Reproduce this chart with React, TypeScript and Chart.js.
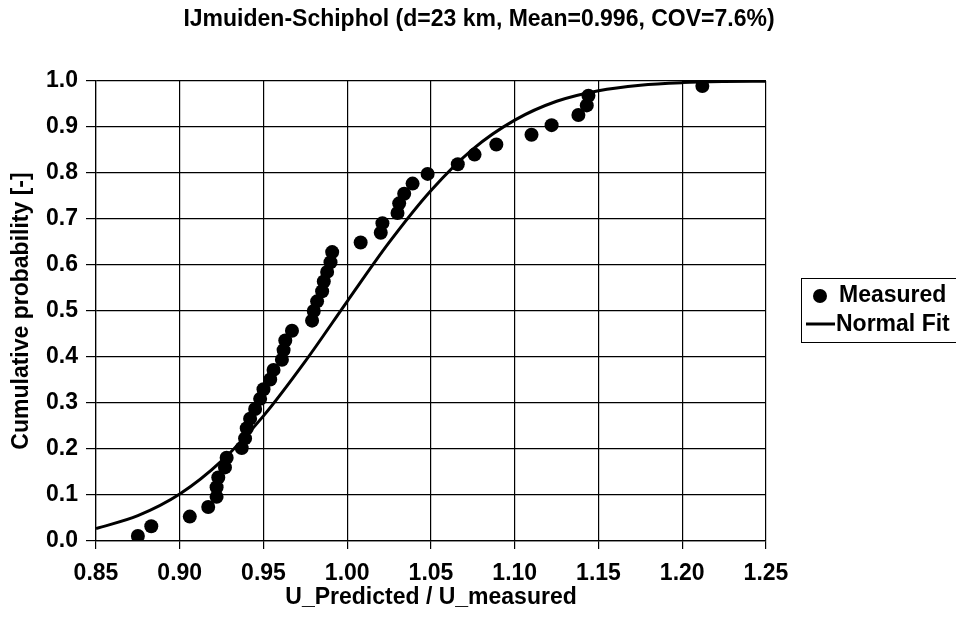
import React, { useEffect, useRef } from 'react';
import { Chart, registerables } from 'chart.js';
Chart.register(...registerables);

const chartTitle = 'IJmuiden-Schiphol (d=23 km, Mean=0.996, COV=7.6%)';
const xAxisTitle = 'U_Predicted / U_measured';
const yAxisTitle = 'Cumulative probability [-]';
const legendLabels = ['Measured', 'Normal Fit'];

const xTicks = [0.85, 0.9, 0.95, 1.0, 1.05, 1.1, 1.15, 1.2, 1.25];
const yTicks = [0, 0.1, 0.2, 0.3, 0.4, 0.5, 0.6, 0.7, 0.8, 0.9, 1.0];

const measuredX = [
  0.875, 0.883, 0.906, 0.917, 0.922, 0.922, 0.923, 0.927, 0.928, 0.937,
  0.939, 0.940, 0.942, 0.945, 0.948, 0.950, 0.954, 0.956, 0.961, 0.962,
  0.963, 0.967, 0.979, 0.980, 0.982, 0.985, 0.986, 0.988, 0.990, 0.991,
  1.008, 1.020, 1.021, 1.030, 1.031, 1.034, 1.039, 1.048, 1.066, 1.076,
  1.089, 1.110, 1.122, 1.138, 1.143, 1.144, 1.212,
];
const measuredP = [
  0.011, 0.032, 0.053, 0.074, 0.096, 0.117, 0.138, 0.160, 0.181, 0.202,
  0.223, 0.245, 0.266, 0.287, 0.309, 0.330, 0.351, 0.372, 0.394, 0.415,
  0.436, 0.457, 0.479, 0.500, 0.521, 0.543, 0.564, 0.585, 0.606, 0.628,
  0.649, 0.670, 0.691, 0.713, 0.734, 0.755, 0.777, 0.798, 0.819, 0.840,
  0.862, 0.883, 0.904, 0.926, 0.947, 0.968, 0.989,
];

const fitX = [0.85, 0.875, 0.9, 0.925, 0.95, 0.975, 1.0, 1.025, 1.05, 1.075, 1.1, 1.125, 1.15, 1.175, 1.2, 1.225, 1.25];
const fitP = [0.027, 0.055, 0.102, 0.174, 0.272, 0.391, 0.521, 0.649, 0.762, 0.852, 0.915, 0.956, 0.979, 0.991, 0.9965, 0.9988, 0.9996];

const FONT = '"Liberation Sans", Arial, Helvetica, sans-serif';
const FS = 23;

const textPlugin = {
  id: 'customText',
  afterDraw(chart: any) {
    const ctx = chart.ctx;
    const area = chart.chartArea;
    ctx.save();
    ctx.fillStyle = '#000';
    ctx.font = `bold ${FS}px ${FONT}`;
    ctx.textAlign = 'center';
    ctx.textBaseline = 'middle';
    ctx.fillText(chartTitle, 479, 20);
    ctx.fillText(xAxisTitle, (area.left + area.right) / 2, 598);
    ctx.save();
    ctx.translate(22, (area.top + area.bottom) / 2);
    ctx.rotate(-Math.PI / 2);
    ctx.fillText(yAxisTitle, 0, 0);
    ctx.restore();
    // legend
    const lx = 801, ly = 278, lw = 170, lh = 64;
    ctx.fillStyle = '#fff';
    ctx.fillRect(lx, ly, lw, lh);
    ctx.strokeStyle = '#000';
    ctx.lineWidth = 1;
    ctx.strokeRect(lx + 0.5, ly + 0.5, lw, lh);
    ctx.fillStyle = '#000';
    ctx.beginPath();
    ctx.arc(820, 296, 7, 0, Math.PI * 2);
    ctx.fill();
    ctx.lineWidth = 3;
    ctx.beginPath();
    ctx.moveTo(806, 324);
    ctx.lineTo(835, 324);
    ctx.stroke();
    ctx.textAlign = 'left';
    ctx.fillText(legendLabels[0], 839, 296);
    ctx.fillText(legendLabels[1], 836, 325);
    ctx.restore();
  },
};

export default function App() {
  const ref = useRef<HTMLCanvasElement>(null);
  useEffect(() => {
    if (!ref.current) return;
    const chart = new Chart(ref.current, {
      type: 'scatter',
      data: {
        datasets: [
          {
            label: legendLabels[1],
            data: fitX.map((x, i) => ({ x, y: fitP[i] })),
            showLine: true,
            borderColor: '#000',
            borderWidth: 3,
            pointRadius: 0,
            cubicInterpolationMode: 'monotone',
            order: 2,
          },
          {
            label: legendLabels[0],
            data: measuredX.map((x, i) => ({ x, y: measuredP[i] })),
            backgroundColor: '#000',
            borderColor: '#000',
            pointRadius: 7,
            pointBorderWidth: 0,
            order: 1,
          },
        ],
      },
      options: {
        responsive: false,
        animation: false,
        devicePixelRatio: 1,
        layout: { padding: { top: 81, right: 190, left: 0, bottom: 0 } },
        plugins: { legend: { display: false }, title: { display: false }, tooltip: { enabled: false } },
        scales: {
          x: {
            type: 'linear',
            min: 0.85,
            max: 1.25,
            afterBuildTicks: (s: any) => { s.ticks = xTicks.map((v) => ({ value: v })); },
            afterFit: (s: any) => { s.height = 87; },
            grid: { color: '#000', lineWidth: 1.2, tickLength: 8, drawTicks: true },
            border: { color: '#000', width: 1.2 },
            ticks: {
              color: '#000',
              font: { family: FONT, size: FS, weight: 'bold' },
              padding: 11,
              maxRotation: 0,
              autoSkip: false,
              callback: (v: any) => Number(v).toFixed(2),
            },
          },
          y: {
            type: 'linear',
            min: 0,
            max: 1,
            afterBuildTicks: (s: any) => { s.ticks = yTicks.map((v) => ({ value: v })); },
            afterFit: (s: any) => { s.width = 96; },
            grid: { color: '#000', lineWidth: 1.2, tickLength: 10, drawTicks: true },
            border: { color: '#000', width: 1.2 },
            ticks: {
              color: '#000',
              font: { family: FONT, size: FS, weight: 'bold' },
              padding: 8,
              autoSkip: false,
              callback: (v: any) => Number(v).toFixed(1),
            },
          },
        },
      },
      plugins: [textPlugin],
    } as any);
    return () => chart.destroy();
  }, []);
  return (
    <div style={{ position: 'fixed', left: 0, top: 0, width: 956, height: 628, background: '#fff' }}>
      <canvas ref={ref} width={956} height={628} />
    </div>
  );
}
